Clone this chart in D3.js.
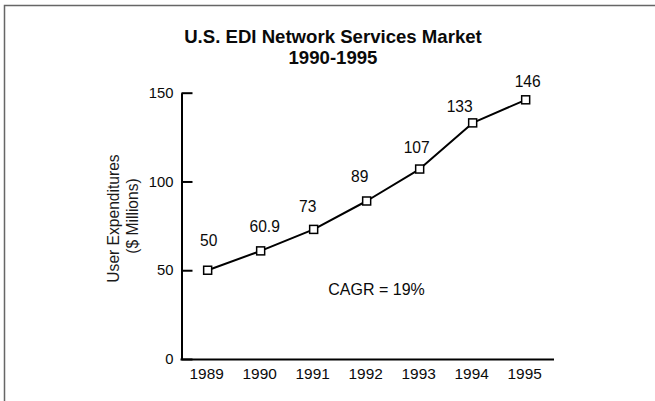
<!DOCTYPE html>
<html>
<head>
<meta charset="utf-8">
<script src="https://cdn.jsdelivr.net/npm/d3@7/dist/d3.min.js"></script>
<style>
  html, body { margin: 0; padding: 0; background: #fff; }
  svg { display: block; font-family: "Liberation Sans", Arial, Helvetica, sans-serif; }
</style>
</head>
<body>
<svg id="chart" width="655" height="401"></svg>
<script>
// Market size, user expenditures in $ millions
const years = [1989, 1990, 1991, 1992, 1993, 1994, 1995];
const spending = [50, 60.9, 73, 89, 107, 133, 146];
const valueLabels = ["50", "60.9", "73", "89", "107", "133", "146"];
const yTicks = [0, 50, 100, 150];

// small hand nudges so value labels clear the line
const labelNudge = [[1, -24], [4, -19], [-6, -17], [-7, -19], [-3, -16], [-13, -11], [2, -12.5]];

const svg = d3.select("#chart");
const W = 655, H = 401;
const plot = { left: 181.5, right: 554, top: 92.7, bottom: 359 };
const ink = "#0a0a0a";

// outer frame (left and top edges)
svg.append("path")
  .attr("d", `M4.5,${H}V5.5H${W}`)
  .attr("fill", "none")
  .attr("stroke", "#666")
  .attr("stroke-width", 1.5);

// title
const title = svg.append("text")
  .attr("text-anchor", "middle")
  .attr("font-weight", "bold")
  .attr("font-size", 18.6)
  .attr("fill", ink);
title.append("tspan").attr("x", 333).attr("y", 43.3).text("U.S. EDI Network Services Market");
title.append("tspan").attr("x", 333).attr("y", 64).text("1990-1995");

const x = d3.scalePoint()
  .domain(years)
  .range([plot.left, plot.right])
  .padding(0.514)
  .align(0.48);

const y = d3.scaleLinear()
  .domain([0, 150])
  .range([plot.bottom, plot.top]);

// y axis with inward ticks
const yAxis = svg.append("g")
  .attr("transform", `translate(${plot.left},0)`)
  .call(d3.axisLeft(y).tickValues(yTicks).tickSizeInner(-11).tickSizeOuter(0).tickPadding(8))
  .attr("font-family", null)
  .attr("font-size", 14.8);
yAxis.selectAll("path, line").attr("stroke", "#000").attr("stroke-width", 2);
yAxis.selectAll("text").attr("fill", ink);

// x axis
const xAxis = svg.append("g")
  .attr("transform", `translate(0,${plot.bottom})`)
  .call(d3.axisBottom(x).tickSize(0).tickPadding(9).tickFormat(d3.format("d")))
  .attr("font-family", null)
  .attr("font-size", 15.4);
xAxis.select(".domain").attr("d", `M${plot.left - 1},0.5H${plot.right}`).attr("stroke", "#000").attr("stroke-width", 2);
xAxis.selectAll("text").attr("fill", ink).attr("dx", -1.5);

// y axis title
const yTitle = svg.append("g").attr("font-size", 15.6).attr("fill", "#1a1a1a").attr("text-anchor", "middle");
yTitle.append("text")
  .attr("transform", "translate(118.5,218.5) rotate(-90)")
  .text("User Expenditures");
yTitle.append("text")
  .attr("transform", "translate(137.5,216) rotate(-90)")
  .text("($ Millions)");

const pts = years.map((yr, i) => ({ year: yr, value: spending[i], label: valueLabels[i], nudge: labelNudge[i] }));

// series line
svg.append("path")
  .datum(pts)
  .attr("fill", "none")
  .attr("stroke", "#000")
  .attr("stroke-width", 2)
  .attr("stroke-linejoin", "round")
  .attr("d", d3.line().x(d => x(d.year)).y(d => y(d.value)));

// square markers
const s = 8;
svg.append("g").selectAll("rect")
  .data(pts)
  .join("rect")
  .attr("x", d => x(d.year) - s / 2)
  .attr("y", d => y(d.value) - s / 2)
  .attr("width", s)
  .attr("height", s)
  .attr("fill", "#fff")
  .attr("stroke", "#000")
  .attr("stroke-width", 1.5);

// value labels
svg.append("g").selectAll("text")
  .data(pts)
  .join("text")
  .attr("x", d => x(d.year) + d.nudge[0])
  .attr("y", d => y(d.value) + d.nudge[1])
  .attr("text-anchor", "middle")
  .attr("font-size", 15.6)
  .attr("fill", ink)
  .text(d => d.label);

// growth annotation
svg.append("text")
  .attr("x", 328.3)
  .attr("y", 295)
  .attr("font-size", 16)
  .attr("fill", ink)
  .text("CAGR = 19%");
</script>
</body>
</html>
